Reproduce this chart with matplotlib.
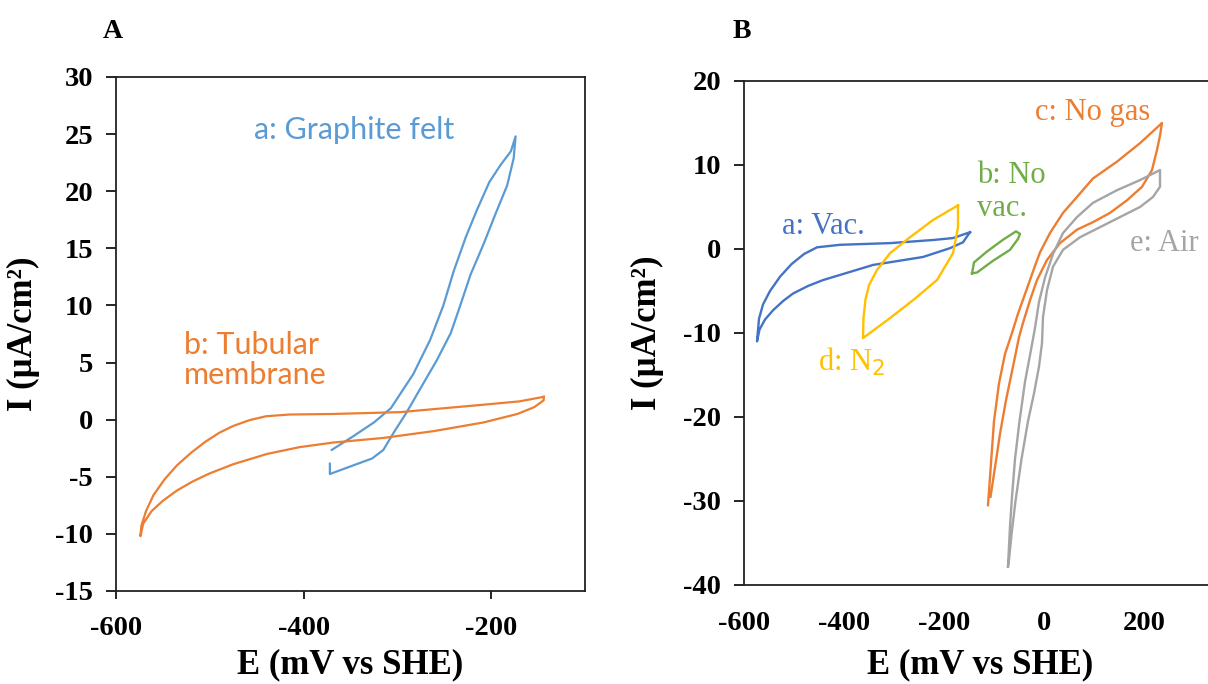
import numpy as np
import matplotlib
matplotlib.use("Agg")
import matplotlib.pyplot as plt

plt.rcParams["axes.unicode_minus"] = False

# ---- panel A: graphite felt vs tubular membrane ----
felt_E = [-370, -347, -325, -307, -295, -283, -265, -251, -240, -227, -215, -202,
          -190, -179, -174, -176, -183, -195, -208, -222, -233, -243, -258, -275,
          -290, -304, -315, -327, -347, -372, -372]
felt_I = [-2.65, -1.45, -0.24, 1.0, 2.5, 4.0, 7.0, 10.0, 13.0, 16.0, 18.4, 20.8,
          22.3, 23.5, 24.8, 22.9, 20.5, 18.1, 15.4, 12.7, 10.0, 7.6, 5.2, 2.8,
          0.66, -1.14, -2.65, -3.4, -4.0, -4.76, -3.85]

tube_E = [-144, -170, -215, -297, -368, -415, -440, -458, -475, -490, -505, -520,
          -535, -548, -560, -568, -573, -574, -571, -562, -550, -535, -518, -500,
          -475, -439, -404, -368, -315, -261, -208, -172, -154, -144, -144]
tube_I = [2.0, 1.6, 1.26, 0.66, 0.5, 0.45, 0.3, -0.05, -0.55, -1.15, -1.95, -2.9,
          -4.0, -5.2, -6.6, -8.0, -9.3, -10.2, -9.1, -8.0, -7.1, -6.2, -5.4, -4.7,
          -3.9, -3.0, -2.4, -2.0, -1.6, -1.0, -0.24, 0.5, 1.1, 1.7, 2.0]

# ---- panel B: gas conditions ----
vac_E = [-148, -182, -222, -308, -408, -454, -480, -505, -528, -548, -562, -570,
         -574, -569, -558, -542, -522, -502, -472, -442, -392, -342, -242, -188,
         -162, -148]
vac_I = [2.0, 1.3, 1.07, 0.7, 0.5, 0.2, -0.6, -1.8, -3.3, -5.0, -6.6, -8.3,
         -11.0, -9.6, -8.4, -7.3, -6.2, -5.3, -4.4, -3.7, -2.8, -1.9, -0.95, 0.1,
         0.8, 2.0]

novac_E = [-144, -140, -114, -82, -56, -48, -52, -68, -102, -134, -144]
novac_I = [-2.9, -1.6, -0.3, 1.1, 2.1, 1.8, 1.2, -0.1, -1.4, -2.8, -2.9]

nogas_E = [-112, -106, -100, -90, -78, -64, -52, -34, -18, -8, 12, 38, 66, 98, 146,
           192, 236, 232, 226, 216, 196, 166, 132, 98, 66, 32, 6, -14, -28, -42,
           -50, -62, -76, -88, -98, -107]
nogas_I = [-30.5, -25.5, -20.5, -16.0, -12.5, -10.0, -7.7, -4.7, -2.0, -0.4, 1.9,
           4.3, 6.2, 8.4, 10.4, 12.6, 15.0, 13.5, 11.8, 9.4, 7.4, 5.8, 4.3, 3.2,
           2.3, 0.7, -1.3, -3.7, -6.1, -8.8, -10.5, -14.0, -18.0, -22.0, -26.0,
           -29.5]

n2_E = [-172, -172, -182, -214, -262, -314, -362, -361, -357, -350, -334, -308,
        -268, -222, -172]
n2_I = [5.2, 2.6, -0.5, -3.7, -6.1, -8.5, -10.6, -8.2, -6.0, -4.3, -2.5, -0.5,
        1.4, 3.45, 5.2]

air_E = [-72, -68, -64, -58, -49, -38, -26, -18, -10, 2, 18, 38, 66, 98, 146, 192,
         232, 232, 218, 192, 152, 112, 72, 38, 18, 6, -2, -4, -10, -20, -32, -45,
         -57, -65, -70, -72]
air_I = [-37.8, -33.0, -29.5, -25.0, -20.5, -15.8, -12.0, -9.4, -6.3, -3.4, -0.6,
         1.9, 3.8, 5.5, 7.0, 8.2, 9.4, 7.4, 6.2, 5.0, 3.8, 2.6, 1.4, -0.1, -2.1,
         -4.9, -8.1, -11.2, -14.0, -17.2, -20.5, -25.0, -30.0, -34.0, -37.0, -37.8]

serif = "Liberation Serif"
tick_fs = 20.5
label_fs = 25

fig = plt.figure(figsize=(12.08, 6.84), dpi=100)


def style_axes(ax, xticks, yticks, xtick_len, xpad):
    for s in ax.spines.values():
        s.set_linewidth(1.3)
        s.set_color("#222222")
    ax.set_xticks(xticks)
    ax.set_yticks(yticks)
    ax.tick_params(axis="y", direction="out", length=7.5, width=1.2, pad=9)
    ax.tick_params(axis="x", direction="out", length=xtick_len, width=1.2, pad=xpad)
    for lab in ax.get_xticklabels() + ax.get_yticklabels():
        lab.set_fontfamily(serif)
        lab.set_fontweight("bold")
        lab.set_fontsize(tick_fs)
    ax.set_xlabel("E (mV vs SHE)", fontfamily=serif, fontweight="bold",
                  fontsize=label_fs)
    ax.set_ylabel("I (\u03bcA/cm\u00b2)", fontfamily=serif, fontweight="bold",
                  fontsize=label_fs)


# Panel A
axA = fig.add_axes([116 / 1208, 1 - 591 / 684, 469 / 1208, 514 / 684])
axA.plot(felt_E, felt_I, color="#5B9BD5", lw=1.6)
axA.plot(tube_E, tube_I, color="#ED7D31", lw=1.6)
axA.set_xlim(-600, -100)
axA.set_ylim(-15, 30)
style_axes(axA, [-600, -400, -200], np.arange(-15, 31, 5), 6, 12)
axA.xaxis.set_label_coords(0.5, -0.111)
axA.yaxis.set_label_coords(-0.162, 0.5)
axA.text(-453, 25.4, "a: Graphite felt", color="#5B9BD5", fontfamily="Lato",
         fontsize=22, va="center", ha="left")
axA.text(-528, 5.2, "b: Tubular\nmembrane", color="#ED7D31", fontfamily="Lato",
         fontsize=22, va="center", ha="left", linespacing=1.1)
fig.text(113 / 1208, 1 - 32 / 684, "A", fontfamily=serif, fontweight="bold",
         fontsize=20, va="center", ha="center")

# Panel B (cropped on the right like the source)
axB = fig.add_axes([744 / 1208, 1 - 585 / 684, 500 / 1208, 504 / 684])
axB.plot(vac_E, vac_I, color="#4472C4", lw=1.7)
axB.plot(novac_E, novac_I, color="#70AD47", lw=1.7)
axB.plot(nogas_E, nogas_I, color="#ED7D31", lw=1.7)
axB.plot(n2_E, n2_I, color="#FFC000", lw=1.7)
axB.plot(air_E, air_I, color="#A5A5A5", lw=1.7)
axB.set_xlim(-600, 400)
axB.set_ylim(-40, 20)
style_axes(axB, [-600, -400, -200, 0, 200], np.arange(-40, 21, 10), 0, 19)
axB.xaxis.set_label_coords(0.472, -0.125)
axB.yaxis.set_label_coords(-0.16, 0.5)
tfs = 22
axB.text(-524, 2.7, "a: Vac.", color="#4472C4", fontfamily=serif, fontsize=tfs,
         va="center", ha="left")
axB.text(-452, -13.4, "d: N$_2$", color="#FFC000", fontfamily=serif, fontsize=tfs,
         va="center", ha="left")
axB.text(-134, 6.8, "b: No\nvac.", color="#70AD47", fontfamily=serif, fontsize=tfs,
         va="center", ha="left", linespacing=1.2)
axB.text(-18, 16.2, "c: No gas", color="#ED7D31", fontfamily=serif, fontsize=tfs,
         va="center", ha="left")
axB.text(172, 0.7, "e: Air", color="#A5A5A5", fontfamily=serif, fontsize=tfs,
         va="center", ha="left")
fig.text(742 / 1208, 1 - 32 / 684, "B", fontfamily=serif, fontweight="bold",
         fontsize=20, va="center", ha="center")

fig.savefig("out.png", dpi=100)
